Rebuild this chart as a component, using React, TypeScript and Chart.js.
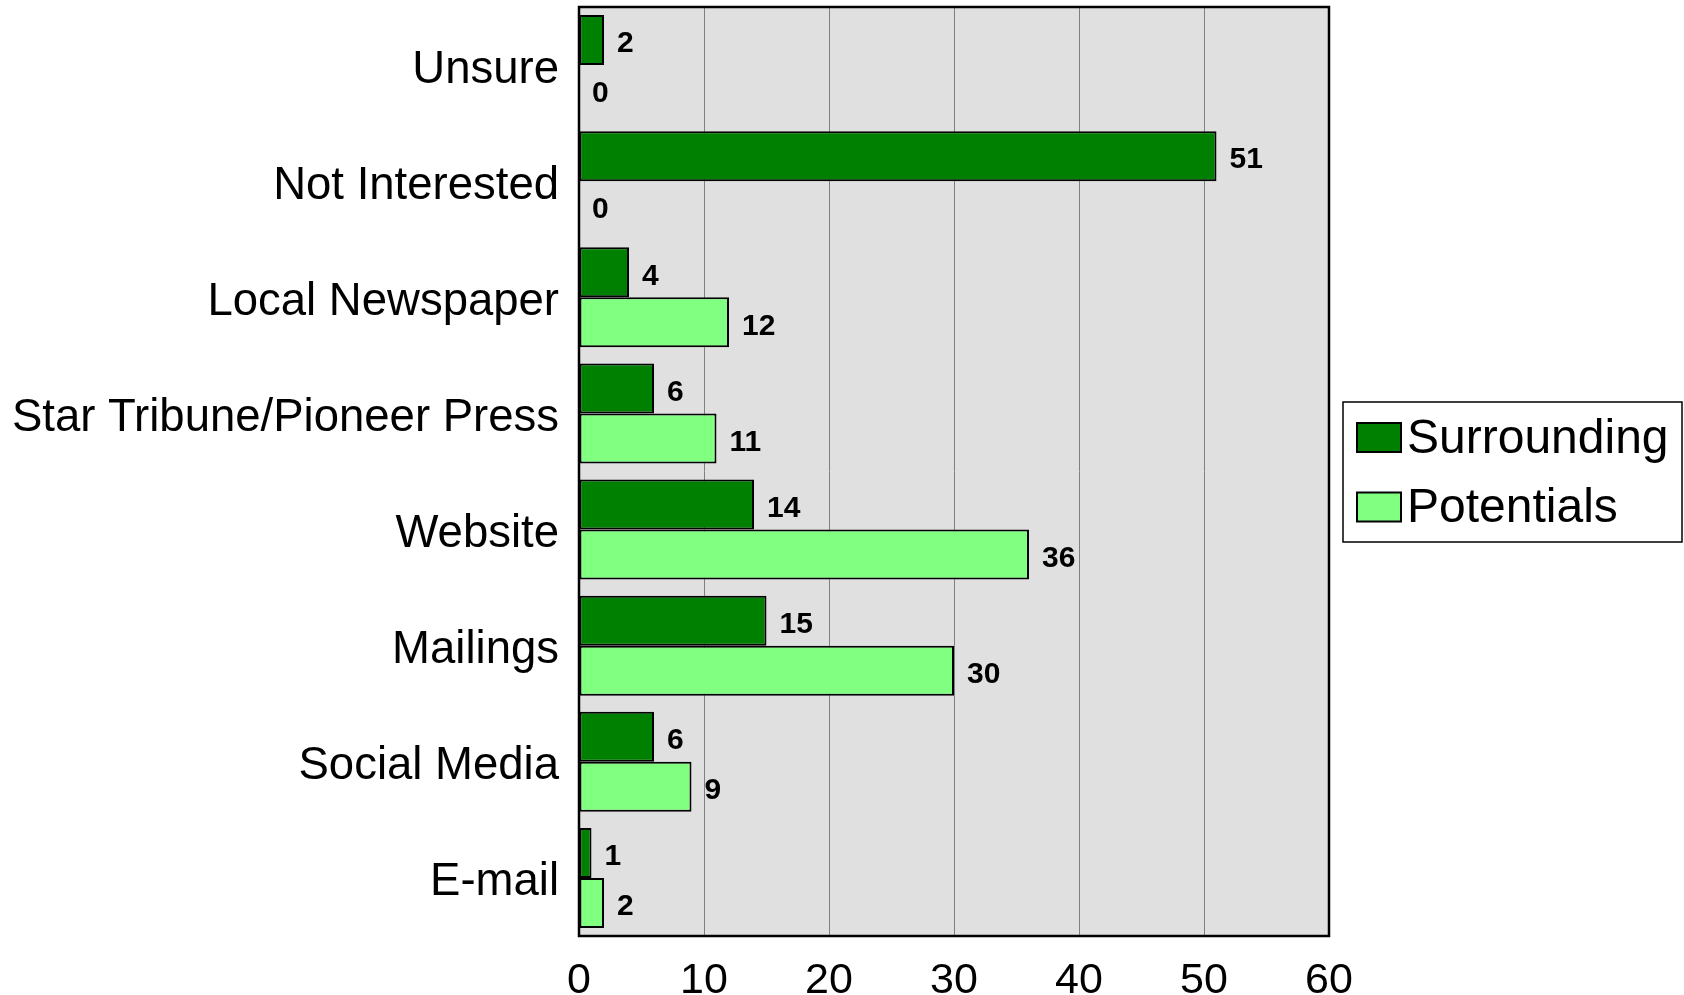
import React, { useEffect, useRef } from "react";
import { Chart, registerables } from "chart.js";

Chart.register(...registerables);

const categories = [
  "Unsure",
  "Not Interested",
  "Local Newspaper",
  "Star Tribune/Pioneer Press",
  "Website",
  "Mailings",
  "Social Media",
  "E-mail",
];
const surrounding = [2, 51, 4, 6, 14, 15, 6, 1];
const potentials = [0, 0, 12, 11, 36, 30, 9, 2];
const seriesNames = ["Surrounding", "Potentials"];
const xTicks = [0, 10, 20, 30, 40, 50, 60];

const FONT = "'Liberation Sans', Arial, Helvetica, sans-serif";
const DARK = "#008000";
const LIGHT = "#80FF80";

const plotBgPlugin = {
  id: "plotBg",
  beforeDraw(chart: any) {
    const { ctx, chartArea } = chart;
    ctx.save();
    ctx.fillStyle = "#E0E0E0";
    ctx.fillRect(chartArea.left, chartArea.top, chartArea.right - chartArea.left, chartArea.bottom - chartArea.top);
    ctx.restore();
  },
  afterDraw(chart: any) {
    const { ctx, chartArea } = chart;
    ctx.save();
    ctx.strokeStyle = "#000";
    ctx.lineWidth = 2.5;
    ctx.strokeRect(chartArea.left, chartArea.top, chartArea.right - chartArea.left, chartArea.bottom - chartArea.top);
    ctx.restore();
  },
};

const yLabelPlugin = {
  id: "yLabels",
  afterDraw(chart: any) {
    const { ctx } = chart;
    const ys = chart.scales.y;
    ctx.save();
    ctx.font = `45.5px ${FONT}`;
    ctx.fillStyle = "#000";
    ctx.textAlign = "right";
    ctx.textBaseline = "middle";
    (chart.data.labels as string[]).forEach((lab, i) => {
      ctx.fillText(lab, ys.right - 20, ys.getPixelForValue(i) + 5);
    });
    ctx.restore();
  },
};

const valueLabelPlugin = {
  id: "valueLabels",
  afterDatasetsDraw(chart: any) {
    const { ctx } = chart;
    ctx.save();
    ctx.font = `bold 30px ${FONT}`;
    ctx.fillStyle = "#000";
    ctx.textAlign = "left";
    ctx.textBaseline = "middle";
    chart.data.datasets.forEach((ds: any, i: number) => {
      const meta = chart.getDatasetMeta(i);
      meta.data.forEach((el: any, j: number) => {
        ctx.fillText(String(ds.data[j]), el.x + 13, el.y + 4);
      });
    });
    ctx.restore();
  },
};

const legendPlugin = {
  id: "customLegend",
  afterDraw(chart: any) {
    const { ctx } = chart;
    ctx.save();
    const bx = 1343, by = 402, bw = 339, bh = 140;
    ctx.fillStyle = "#fff";
    ctx.fillRect(bx, by, bw, bh);
    ctx.strokeStyle = "#000";
    ctx.lineWidth = 1.5;
    ctx.strokeRect(bx, by, bw, bh);
    const colors = [DARK, LIGHT];
    const rows = [437.5, 507];
    ctx.font = `48px ${FONT}`;
    ctx.textBaseline = "middle";
    ctx.textAlign = "left";
    seriesNames.forEach((name, i) => {
      const cy = rows[i];
      ctx.fillStyle = colors[i];
      ctx.fillRect(1357, cy - 14.5, 44, 29);
      ctx.lineWidth = 2;
      ctx.strokeStyle = "#000";
      ctx.strokeRect(1357, cy - 14.5, 44, 29);
      ctx.fillStyle = "#000";
      ctx.fillText(name, 1407, cy + 2);
    });
    ctx.restore();
  },
};

export default function App() {
  const ref = useRef<HTMLCanvasElement>(null);
  useEffect(() => {
    document.body.style.margin = "0";
    const chart = new Chart(ref.current!, {
      type: "bar",
      data: {
        labels: categories,
        datasets: [
          {
            label: seriesNames[0],
            data: surrounding,
            backgroundColor: DARK,
            borderColor: "#000",
            borderWidth: 2,
            borderSkipped: false,
            categoryPercentage: 0.862,
            barPercentage: 1.0,
          },
          {
            label: seriesNames[1],
            data: potentials,
            backgroundColor: LIGHT,
            borderColor: "#000",
            borderWidth: 2,
            borderSkipped: false,
            categoryPercentage: 0.862,
            barPercentage: 1.0,
          },
        ],
      },
      options: {
        indexAxis: "y",
        animation: false,
        responsive: false,
        maintainAspectRatio: false,
        layout: { padding: { top: 7, right: 355, left: 0, bottom: 0 } },
        plugins: {
          legend: { display: false },
          tooltip: { enabled: false },
          title: { display: false },
        },
        scales: {
          x: {
            min: 0,
            max: 60,
            afterBuildTicks(scale: any) {
              scale.ticks = xTicks.map((v) => ({ value: v }));
            },
            afterFit(scale: any) {
              scale.height = 59;
              scale.paddingLeft = 0;
              scale.paddingRight = 0;
            },
            border: { display: false },
            grid: { color: "#808080", lineWidth: 1, drawTicks: false },
            ticks: {
              color: "#000",
              font: { family: FONT, size: 43 },
              padding: 19,
              maxRotation: 0,
            },
          },
          y: {
            afterFit(scale: any) {
              scale.width = 579;
              scale.paddingTop = 0;
              scale.paddingBottom = 0;
            },
            border: { display: false },
            grid: { display: false, drawTicks: false },
            ticks: { display: false },
          },
        },
      },
      plugins: [plotBgPlugin, yLabelPlugin, valueLabelPlugin, legendPlugin],
    });
    return () => chart.destroy();
  }, []);
  return (
    <div style={{ position: "absolute", left: 0, top: 0, width: 1684, height: 995, background: "#fff" }}>
      <canvas ref={ref} width={1684} height={995} style={{ width: 1684, height: 995 }} />
    </div>
  );
}
